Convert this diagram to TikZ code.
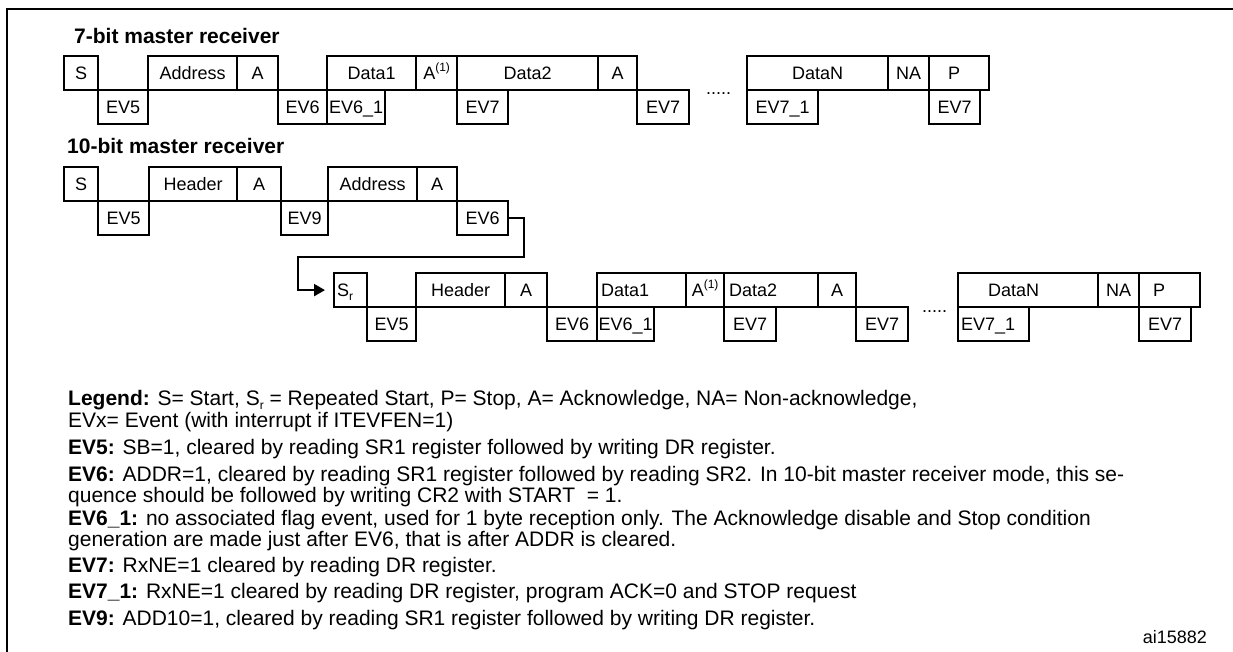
\documentclass[tikz,border=0pt]{standalone}
\usepackage{fontspec}
\setmainfont{Liberation Sans}
\usetikzlibrary{arrows.meta}
\newcommand\supx[1]{\raisebox{0.42em}{\fontsize{12}{12}\selectfont #1}}
\newcommand\subx[1]{\raisebox{-0.22em}{\fontsize{12}{12}\selectfont #1}}
\newcommand\bx[6][]{%
  \pgfmathsetmacro\bxw{#4-#3}%
  \node[bx, minimum width=\bxw pt, anchor=north west, #1] (#2) at (#3,#5) {#6};}
\begin{document}
\begin{tikzpicture}[x=1pt,y=-1pt,
  bx/.style={draw, line width=2.2pt, inner sep=0pt, minimum height=34pt,
    font=\fontsize{18}{20}\selectfont, text height=12.9pt, text depth=0pt},
  lt/.style={inner xsep=#1, text width={\bxw pt-2*#1}, align=left},
  hd/.style={anchor=base west, inner sep=0pt, font=\fontsize{21}{24}\selectfont\bfseries},
  lg/.style={anchor=base west, inner sep=0pt, font=\fontsize{21}{23}\selectfont},
  dots/.style={anchor=base west, inner sep=0pt, font=\fontsize{18}{20}\selectfont},
  frame/.style={line width=2.5pt},
  conn/.style={line width=2.2pt, -{Triangle[length=11pt,width=12pt]}}]
\useasboundingbox (0,0) rectangle (1233,652);
\draw[frame] (7,652) -- (7,9) -- (1233,9);
% headings
\node[hd] (h7) at (74,44) {7-bit master receiver};
\node[hd] (h10) at (67,154) {10-bit master receiver};
% row 1
\bx{a1s}{63}{97}{55}{S}
\bx{a1ev5}{97}{147}{89}{EV5}
\bx{a1addr}{147}{236}{55}{Address}
\bx{a1a}{236}{277}{55}{A}
\bx{a1ev6}{277}{326}{89}{EV6}
\bx{a1d1}{326}{415}{55}{Data1}
\bx{a1ev61}{326}{384}{89}{EV6\_1}
\bx{a1a1}{415}{456}{55}{A\supx{(1)}}
\bx{a1d2}{456}{597}{55}{Data2}
\bx{a1ev7a}{456}{507}{89}{EV7}
\bx{a1a2}{597}{636}{55}{A}
\bx{a1ev7b}{636}{688}{89}{EV7}
\node[dots] (a1dots) at (706,95) {.....};
\bx{a1dn}{746}{887}{55}{DataN}
\bx{a1ev71}{746}{817}{89}{EV7\_1}
\bx{a1na}{887}{928}{55}{NA}
\bx[lt=19pt]{a1p}{928}{988}{55}{P}
\bx{a1ev7c}{928}{979}{89}{EV7}
% row 2
\bx{b1s}{63}{97}{166}{S}
\bx{b1ev5}{97}{148}{200}{EV5}
\bx{b1hdr}{148}{236}{166}{Header}
\bx{b1a}{236}{280}{166}{A}
\bx{b1ev9}{280}{327}{200}{EV9}
\bx{b1addr}{327}{416}{166}{Address}
\bx{b1a2}{416}{456}{166}{A}
\bx{b1ev6}{456}{507}{200}{EV6}
% row 3
\bx[lt=3pt]{c1sr}{333}{366}{272}{S\subx{r}}
\bx{c1ev5}{366}{415}{306}{EV5}
\bx{c1hdr}{415}{504}{272}{Header}
\bx{c1a}{504}{546}{272}{A}
\bx{c1ev6}{546}{596}{306}{EV6}
\bx[lt=4pt]{c1d1}{596}{685}{272}{Data1}
\bx{c1ev61}{596}{653}{306}{EV6\_1}
\bx{c1a1}{685}{723}{272}{A\supx{(1)}}
\bx[lt=5pt]{c1d2}{723}{817}{272}{Data2}
\bx{c1ev7a}{723}{775}{306}{EV7}
\bx{c1a2}{817}{855}{272}{A}
\bx{c1ev7b}{855}{907}{306}{EV7}
\node[dots] (c1dots) at (922,312) {.....};
\bx[lt=30pt]{c1dn}{957}{1097}{272}{DataN}
\bx[lt=3pt]{c1ev71}{957}{1028}{306}{EV7\_1}
\bx{c1na}{1097}{1138}{272}{NA}
\bx[lt=14pt]{c1p}{1138}{1199}{272}{P}
\bx{c1ev7c}{1138}{1190}{306}{EV7}
% connector
\coordinate (k1) at (524,257);
\coordinate (k2) at (298,257);
\draw[conn] (b1ev6.east) -| (k1) -- (k2) |- ([xshift=-8pt]c1sr.west);
% legend
\node[lg] (lg1) at (68,405) {\textbf{Legend:} S= Start, S\subx{r} = Repeated Start, P= Stop, A= Acknowledge, NA= Non-acknowledge,};
\node[lg] (lg2) at (68,427) {EVx= Event (with interrupt if ITEVFEN=1)};
\node[lg] (lg3) at (68,454) {\textbf{EV5:} SB=1, cleared by reading SR1 register followed by writing DR register.};
\node[lg] (lg4) at (68,481) {\textbf{EV6:} ADDR=1, cleared by reading SR1 register followed by reading SR2. In 10-bit master receiver mode, this se-};
\node[lg] (lg5) at (68,502) {quence should be followed by writing CR2 with START\ \ = 1.};
\node[lg] (lg6) at (68,525) {\textbf{EV6\_1:} no associated flag event, used for 1 byte reception only. The Acknowledge disable and Stop condition};
\node[lg] (lg7) at (68,546) {generation are made just after EV6, that is after ADDR is cleared.};
\node[lg] (lg8) at (68,572) {\textbf{EV7:} RxNE=1 cleared by reading DR register.};
\node[lg] (lg9) at (68,598) {\textbf{EV7\_1:} RxNE=1 cleared by reading DR register, program ACK=0 and STOP request};
\node[lg] (lg10) at (68,625) {\textbf{EV9:} ADD10=1, cleared by reading SR1 register followed by writing DR register.};
\node[anchor=base east, inner sep=0pt, font=\fontsize{18}{20}\selectfont] (id) at (1207,643) {ai15882};
\end{tikzpicture}
\end{document}
